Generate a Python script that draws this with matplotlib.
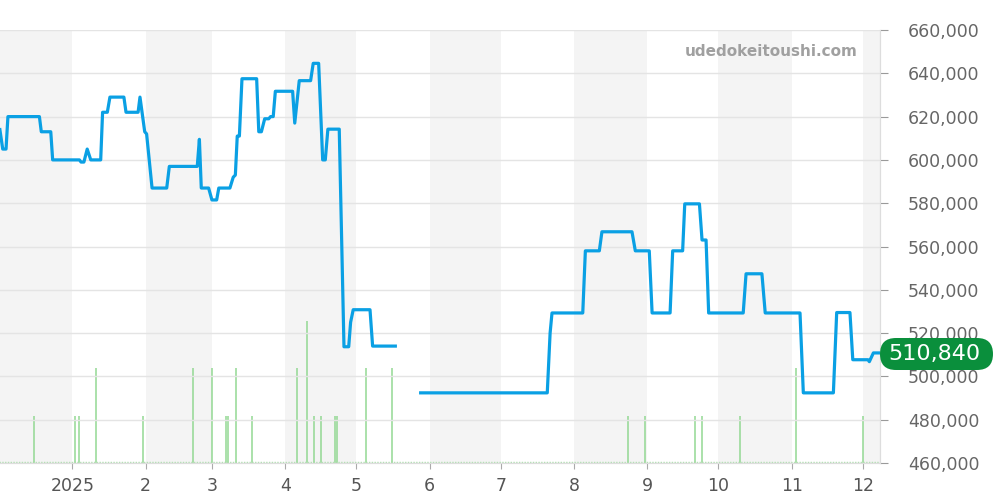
import matplotlib
matplotlib.use("Agg")
import matplotlib.pyplot as plt
from matplotlib.patches import FancyBboxPatch
import numpy as np
import pandas as pd

# price line: x = days since 2025-01-01, nan marks the gap in the data
price_days = [-30.6, -29.4, -28.0, -27.2, -13.9, -13.1, -9.1, -8.3, 3.0, 3.7,
              4.9, 6.3, 7.8, 12.0, 12.8, 14.8, 15.9, 21.8, 22.7, 27.8,
              28.6, 30.6, 31.4, 33.7, 39.9, 41.0, 52.8, 53.7, 54.5, 57.6,
              59.0, 61.0, 61.9, 66.6, 68.0, 68.9, 69.7, 70.6, 71.7, 77.9,
              78.8, 79.9, 81.3, 83.0, 83.8, 84.9, 85.8, 93.1, 94.0, 95.9,
              100.7, 101.8, 104.1, 105.8, 106.9, 108.0, 112.8, 114.8, 116.8, 117.6,
              118.7, 125.8, 126.9, 136.5, 140.0,
              147.2, 200.7, 201.9, 202.7, 215.7, 216.8, 222.7, 223.8, 236.5,
              237.9, 243.8, 245.0, 252.6, 253.7, 257.9, 258.8, 265.0, 266.1, 267.8,
              268.9, 283.5, 284.7, 291.4, 292.8, 307.5, 308.9, 321.6, 323.0, 328.6,
              329.8, 336.2, 336.8, 338.5, 341.3]
price_vals = [614000, 605000, 605000, 620000, 620000, 613000, 613000, 600000, 600000, 599000,
              599000, 605000, 600000, 600000, 622000, 622000, 629000, 629000, 622000, 622000,
              629000, 613000, 612000, 587000, 587000, 597000, 597000, 609500, 587000, 587000,
              581500, 581500, 587000, 587000, 592000, 593000, 611000, 611000, 637500, 637500,
              613000, 613000, 619000, 619000, 620000, 620000, 631700, 631700, 617000, 636600,
              636600, 644600, 644600, 600000, 600000, 614200, 614200, 513700, 513700, 525000,
              530800, 530800, 514000, 514000, np.nan,
              492400, 492400, 520000, 529300, 529300, 558000, 558000, 566800, 566800,
              558000, 558000, 529300, 529300, 558000, 558000, 579700, 579700, 563000, 563000,
              529300, 529300, 547400, 547400, 529300, 529300, 492400, 492400, 529500, 529500,
              507700, 507700, 506800, 510840, 510840]

# trade counts (green bars)
vol_days = [-16, 1, 3, 10, 30, 51, 59, 65, 66, 69, 76, 95, 99, 102, 105,
            111, 112, 124, 135, 235, 242, 263, 266, 282, 306, 334]
vol_counts = [1, 1, 1, 2, 1, 2, 2, 1, 1, 2, 1, 2, 3, 1, 1,
              1, 1, 2, 2, 1, 1, 1, 1, 1, 2, 1]

month_labels = ["2025", "2", "3", "4", "5", "6", "7", "8", "9", "10", "11", "12"]
last_price = 510840

base = pd.Timestamp("2025-01-01")
month_starts = [(d - base).days for d in pd.date_range("2024-12-01", "2026-01-01", freq="MS")]

fig = plt.figure(figsize=(10, 5), dpi=100)
ax_v = fig.add_axes([0.0, 0.074, 0.88, 0.866])
ax = ax_v.twinx()
ax.set_zorder(2)
ax_v.set_zorder(1)
ax.patch.set_visible(False)

# alternating month shading
for i in range(0, len(month_starts) - 1, 2):
    ax_v.axvspan(month_starts[i], month_starts[i + 1], color="#f4f4f4", lw=0, zorder=0)

ax_v.vlines(vol_days, 0, vol_counts, color="#93d893", lw=1.1, zorder=2)
ax_v.plot([-31, 342], [0.02, 0.02], color="#a8e0a8", lw=1, ls=(0, (1, 1)), zorder=1)
ax_v.set_ylim(0, 9.12)
ax_v.set_yticks([])

ax.plot(price_days, price_vals, color="#0aa0e4", lw=2.3, solid_joinstyle="round", zorder=3)
ax.set_ylim(460000, 660000)
ax.set_yticks(np.arange(460000, 660001, 20000))
ax.yaxis.set_major_formatter(matplotlib.ticker.FuncFormatter(lambda v, p: f"{int(v):,}"))
ax.yaxis.grid(True, color="#e4e4e4", lw=1)
ax.tick_params(axis="y", colors="#9a9a9a", labelcolor="#666666", labelsize=12.5,
               length=6, pad=14)

ax_v.set_xlim(-30.55, 341.3)
ax_v.set_xticks(month_starts[1:13])
ax_v.set_xticklabels(month_labels)
ax_v.tick_params(axis="x", colors="#aaaaaa", labelcolor="#555555", labelsize=12.5,
                 length=4, pad=6)

for a in (ax, ax_v):
    a.spines["top"].set_visible(False)
    a.spines["left"].set_visible(False)
    a.spines["right"].set_color("#dddddd")
    a.spines["bottom"].set_color("#dddddd")

ax.text(0.975, 0.95, "udedokeitoushi.com", transform=ax.transAxes, ha="right", va="center",
        fontsize=11, fontweight="bold", color="#a0a0a0")

# last price badge
badge = FancyBboxPatch((8.8, 1.30), 1.13, 0.32, boxstyle="round,pad=0,rounding_size=0.16",
                       transform=fig.dpi_scale_trans, fc="#0a8f3c", ec="none", zorder=10)
fig.patches.append(badge)
fig.text(9.34, 1.46, f"{last_price:,}", transform=fig.dpi_scale_trans, ha="center",
         va="center", fontsize=16, color="white", zorder=11)

fig.savefig("out.png", dpi=100)
